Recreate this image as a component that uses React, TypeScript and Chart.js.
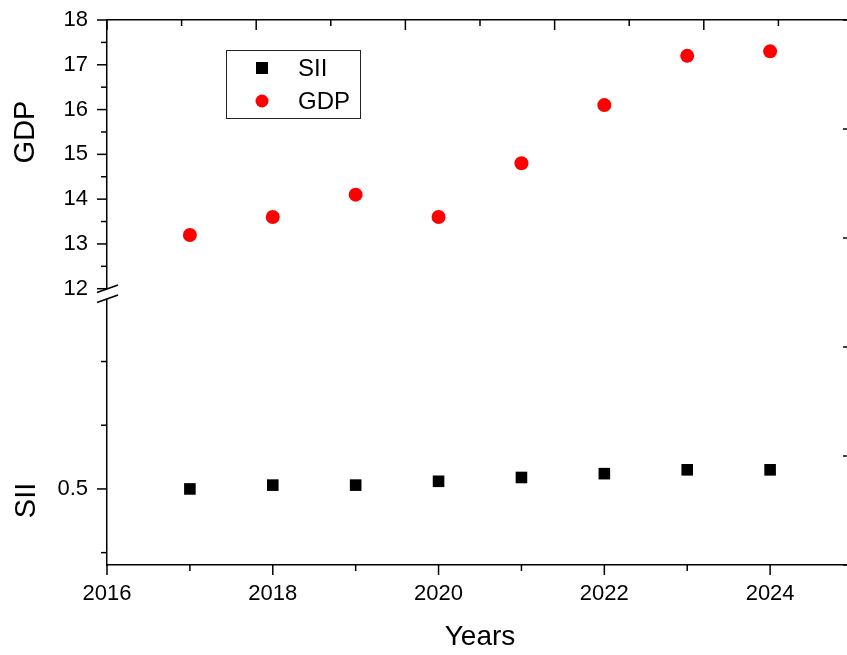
import { useEffect, useRef } from 'react';
import { Chart, registerables } from 'chart.js';

Chart.register(...registerables);

// ---- data ----
const years = [2017, 2018, 2019, 2020, 2021, 2022, 2023, 2024];
const gdpValues = [13.2, 13.6, 14.1, 13.6, 14.8, 16.1, 17.2, 17.3];
const siiValues = [0.5, 0.503, 0.503, 0.506, 0.509, 0.512, 0.515, 0.515];

// ---- tick values ----
const xMajorTicks = [2016, 2018, 2020, 2022, 2024];
const xMinorTicks = [2017, 2019, 2021, 2023, 2025];
const gdpMajorTicks = [12, 13, 14, 15, 16, 17, 18];
const gdpMinorTicks = [12.5, 13.5, 14.5, 15.5, 16.5, 17.5];
const siiMajorTicks = [0.5];
const siiMinorTicks = [0.45, 0.55, 0.6];
const frameMajorTicks = [0, 2, 4, 6, 8, 10];
const frameMinorTicks = [1, 3, 5, 7, 9];

const seriesNames = ['SII', 'GDP'];
const axisTitles = { x: 'Years', gdp: 'GDP', sii: 'SII' };

const FONT = '"Liberation Sans", Arial, Helvetica, sans-serif';
const RED = '#ff0000';
const BLACK = '#000000';

const decorPlugin = {
  id: 'decor',
  afterDraw(chart: any) {
    const ctx = chart.ctx as CanvasRenderingContext2D;
    const { left, right, top, bottom } = chart.chartArea;
    const sx = chart.scales.x;
    const sx2 = chart.scales.x2;
    const sy2 = chart.scales.y2;
    const sg = chart.scales.yGdp;
    const ss = chart.scales.ySii;
    const MAJ = 10;
    const MIN = 6;
    ctx.save();
    ctx.strokeStyle = BLACK;
    ctx.lineWidth = 1.5;
    const line = (x1: number, y1: number, x2: number, y2: number) => {
      ctx.beginPath();
      ctx.moveTo(x1, y1);
      ctx.lineTo(x2, y2);
      ctx.stroke();
    };
    const hTicks = (scale: any, vals: number[], len: number, y: number) =>
      vals.forEach((v) => {
        const px = scale.getPixelForValue(v);
        line(px, y, px, y + len);
      });
    const vTicks = (scale: any, vals: number[], len: number, x: number) =>
      vals.forEach((v) => {
        const py = scale.getPixelForValue(v);
        line(x, py, x - len, py);
      });
    // bottom x (outward)
    hTicks(sx, xMajorTicks, MAJ, bottom);
    hTicks(sx, xMinorTicks, MIN, bottom);
    // top frame (inward)
    hTicks(sx2, frameMajorTicks, MAJ, top);
    hTicks(sx2, frameMinorTicks, MIN, top);
    // left (outward)
    vTicks(sg, gdpMajorTicks, MAJ, left);
    vTicks(sg, gdpMinorTicks, MIN, left);
    vTicks(ss, siiMajorTicks, MAJ, left);
    vTicks(ss, siiMinorTicks, MIN, left);
    // right frame (inward)
    vTicks(sy2, frameMajorTicks, MAJ, right);
    vTicks(sy2, frameMinorTicks, MIN, right);

    // axis break
    const by = sg.bottom;
    ctx.fillStyle = '#ffffff';
    ctx.fillRect(left - 2, by - 5, 4, 10);
    ctx.lineWidth = 1.5;
    line(left - 10, by - 1.5, left + 11, by - 9);
    line(left - 10, by + 8.5, left + 11, by + 1);

    // y axis titles
    ctx.fillStyle = BLACK;
    ctx.font = `29px ${FONT}`;
    ctx.textAlign = 'center';
    ctx.textBaseline = 'middle';
    ctx.save();
    ctx.translate(left - 81, sg.getPixelForValue(15.5));
    ctx.rotate(-Math.PI / 2);
    ctx.fillText(axisTitles.gdp, 0, 0);
    ctx.restore();
    ctx.save();
    ctx.translate(left - 80, ss.getPixelForValue(0.491));
    ctx.rotate(-Math.PI / 2);
    ctx.fillText(axisTitles.sii, 0, 0);
    ctx.restore();

    // legend
    const lx = left + 119;
    const ly = top + 30;
    const lw = 134;
    const lh = 68;
    ctx.lineWidth = 1;
    ctx.strokeStyle = '#222';
    ctx.strokeRect(lx + 0.5, ly + 0.5, lw, lh);
    const mx = lx + 36;
    const rows = [ly + 18, ly + 51];
    ctx.fillStyle = BLACK;
    ctx.fillRect(mx - 6, rows[0] - 6, 12, 12);
    ctx.fillStyle = RED;
    ctx.beginPath();
    ctx.arc(mx, rows[1], 6.5, 0, Math.PI * 2);
    ctx.fill();
    ctx.fillStyle = BLACK;
    ctx.font = `24px ${FONT}`;
    ctx.textAlign = 'left';
    ctx.textBaseline = 'middle';
    ctx.fillText(seriesNames[0], lx + 72, rows[0] + 1);
    ctx.fillText(seriesNames[1], lx + 72, rows[1] + 1);
    ctx.restore();
  },
};

const fitY = (s: any) => {
  s.width = 107;
  s.paddingTop = 0;
  s.paddingBottom = 0;
};

export default function App() {
  const ref = useRef<HTMLCanvasElement>(null);
  useEffect(() => {
    if (!ref.current) return;
    Chart.defaults.font.family = FONT;
    Chart.defaults.color = BLACK;
    const chart = new Chart(ref.current, {
      type: 'scatter',
      data: {
        datasets: [
          {
            label: seriesNames[0],
            data: years.map((y, i) => ({ x: y, y: siiValues[i] })),
            xAxisID: 'x',
            yAxisID: 'ySii',
            pointStyle: 'rect',
            pointRadius: 8.2,
            pointBackgroundColor: BLACK,
            pointBorderWidth: 0,
            backgroundColor: BLACK,
            borderColor: BLACK,
          },
          {
            label: seriesNames[1],
            data: years.map((y, i) => ({ x: y, y: gdpValues[i] })),
            xAxisID: 'x',
            yAxisID: 'yGdp',
            pointStyle: 'circle',
            pointRadius: 7,
            pointBackgroundColor: RED,
            pointBorderWidth: 0,
            backgroundColor: RED,
            borderColor: RED,
          },
        ],
      },
      options: {
        responsive: false,
        animation: false,
        layout: { padding: { top: 20, right: 17, left: 0, bottom: 0 } },
        plugins: {
          legend: { display: false },
          tooltip: { enabled: false },
        },
        scales: {
          x: {
            type: 'linear',
            position: 'bottom',
            min: 2016,
            max: 2025,
            afterBuildTicks: (s: any) => {
              s.ticks = xMajorTicks.map((v) => ({ value: v }));
            },
            afterFit: (s: any) => {
              s.height = 90;
              s.paddingLeft = 0;
              s.paddingRight = 0;
            },
            grid: { display: false, drawTicks: false },
            border: { display: true, color: BLACK, width: 1.5 },
            ticks: {
              padding: 16,
              autoSkip: false,
              maxRotation: 0,
              color: BLACK,
              font: { size: 22 },
              callback: (v: any) => String(v),
            },
            title: {
              display: true,
              text: axisTitles.x,
              color: BLACK,
              font: { size: 28 },
              padding: { top: 0, bottom: 1 },
            },
          },
          x2: {
            type: 'linear',
            position: 'top',
            min: 0,
            max: 10,
            afterFit: (s: any) => {
              s.height = 0;
              s.paddingLeft = 0;
              s.paddingRight = 0;
            },
            grid: { display: false, drawTicks: false },
            border: { display: true, color: BLACK, width: 1.5 },
            ticks: { display: false },
          },
          ySii: {
            type: 'linear',
            position: 'left',
            stack: 'left',
            stackWeight: 271,
            min: 0.4403,
            max: 0.653,
            afterBuildTicks: (s: any) => {
              s.ticks = siiMajorTicks.map((v) => ({ value: v }));
            },
            afterFit: fitY,
            grid: { display: false, drawTicks: false },
            border: { display: true, color: BLACK, width: 1.5 },
            ticks: {
              padding: 19,
              autoSkip: false,
              color: BLACK,
              font: { size: 22 },
              callback: (v: any) => Number(v).toFixed(1),
            },
          },
          yGdp: {
            type: 'linear',
            position: 'left',
            stack: 'left',
            stackWeight: 274,
            min: 11.882,
            max: 18,
            afterBuildTicks: (s: any) => {
              s.ticks = gdpMajorTicks.map((v) => ({ value: v }));
            },
            afterFit: fitY,
            grid: { display: false, drawTicks: false },
            border: { display: true, color: BLACK, width: 1.5 },
            ticks: {
              padding: 19,
              autoSkip: false,
              color: BLACK,
              font: { size: 22 },
              callback: (v: any) => String(v),
            },
          },
          y2: {
            type: 'linear',
            position: 'right',
            min: 0,
            max: 10,
            afterFit: (s: any) => {
              s.width = 0;
              s.paddingTop = 0;
              s.paddingBottom = 0;
            },
            grid: { display: false, drawTicks: false },
            border: { display: true, color: BLACK, width: 1.5 },
            ticks: { display: false },
          },
        },
      } as any,
      plugins: [decorPlugin],
    });
    return () => chart.destroy();
  }, []);
  return (
    <div
      style={{
        position: 'fixed',
        left: 0,
        top: 0,
        width: 847,
        height: 655,
        overflow: 'hidden',
        background: '#ffffff',
      }}
    >
      <canvas ref={ref} width={870} height={655} style={{ display: 'block' }} />
    </div>
  );
}
